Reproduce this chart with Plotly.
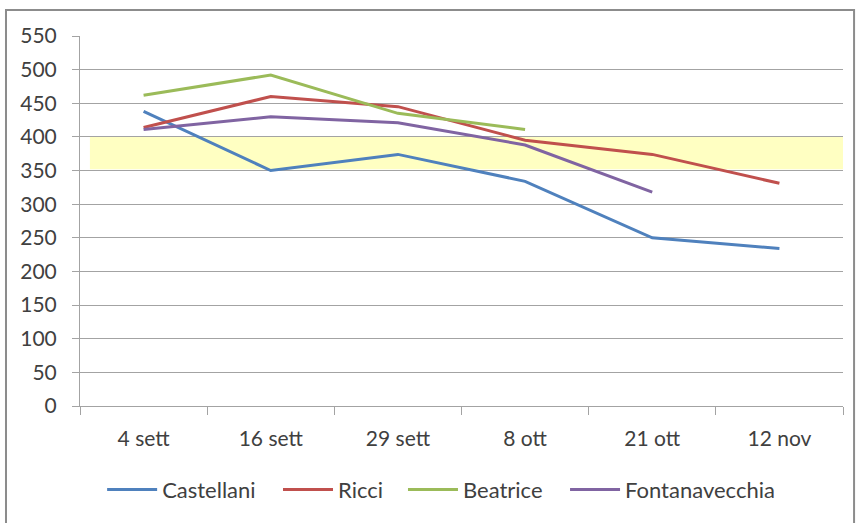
import plotly.graph_objects as go

# Survey dates (category axis)
dates = ["4 sett", "16 sett", "29 sett", "8 ott", "21 ott", "12 nov"]

# Values per person
castellani = [438, 350, 374, 334, 250, 234]
ricci = [414, 460, 445, 395, 374, 331]
beatrice = [462, 492, 435, 411]
fontanavecchia = [411, 430, 421, 388, 318]

# Target range highlighted behind the lines
band_low, band_high = 352, 400

y_ticks = list(range(0, 551, 50))

series = [
    ("Castellani", castellani, "#4F81BD"),
    ("Ricci", ricci, "#C0504D"),
    ("Beatrice", beatrice, "#9BBB59"),
    ("Fontanavecchia", fontanavecchia, "#8064A2"),
]

# Horizontal anchor of each legend entry (fraction of plot width)
legend_x = [0.029, 0.2595, 0.4233, 0.6357]

FONT = "Lato, 'Liberation Sans Narrow', Arial, sans-serif"
TEXT = "#404040"
GRID = "#A3A3A3"

fig = go.Figure()
legend_ids = ["legend", "legend2", "legend3", "legend4"]
for (name, vals, color), lid in zip(series, legend_ids):
    fig.add_trace(go.Scatter(
        x=dates[:len(vals)], y=vals, name=name, mode="lines",
        line=dict(color=color, width=3), legend=lid,
    ))

# Yellow target band
fig.add_shape(type="rect", xref="paper", yref="y",
              x0=0.013, x1=1.0, y0=band_low, y1=band_high,
              fillcolor="#FFFFC2", line_width=0, layer="below")

# Chart-area frame
fig.add_shape(type="rect", xref="paper", yref="paper",
              x0=-0.097, x1=1.0145, y0=-0.33, y1=1.070,
              line=dict(color="#8C8C8C", width=2), fillcolor="rgba(0,0,0,0)")

legend_style = dict(orientation="h", xanchor="left", y=-0.226, yanchor="middle",
                    font=dict(family=FONT, size=22, color=TEXT), itemwidth=50,
                    bgcolor="rgba(0,0,0,0)")
legends = {lid: dict(x=lx, **legend_style) for lid, lx in zip(legend_ids, legend_x)}

fig.update_layout(
    width=859, height=523,
    margin=dict(l=80, r=16, t=36, b=115),
    paper_bgcolor="white", plot_bgcolor="rgba(0,0,0,0)",
    font=dict(family=FONT, size=21, color=TEXT),
    showlegend=True,
    xaxis=dict(
        type="category", categoryorder="array", categoryarray=dates,
        range=[-0.5, 5.5], showgrid=False, showline=True, linecolor=GRID, linewidth=1,
        ticks="outside", tickson="boundaries", ticklen=8, tickcolor=GRID,
        ticklabelstandoff=14, zeroline=False,
    ),
    yaxis=dict(
        range=[0, 550], tickmode="array", tickvals=y_ticks,
        showgrid=True, gridcolor=GRID, gridwidth=1,
        showline=True, linecolor=GRID, linewidth=1,
        ticks="outside", ticklen=7, tickcolor=GRID,
        ticklabelstandoff=11, zeroline=False,
    ),
    **legends,
)

fig.write_html("out.html")
